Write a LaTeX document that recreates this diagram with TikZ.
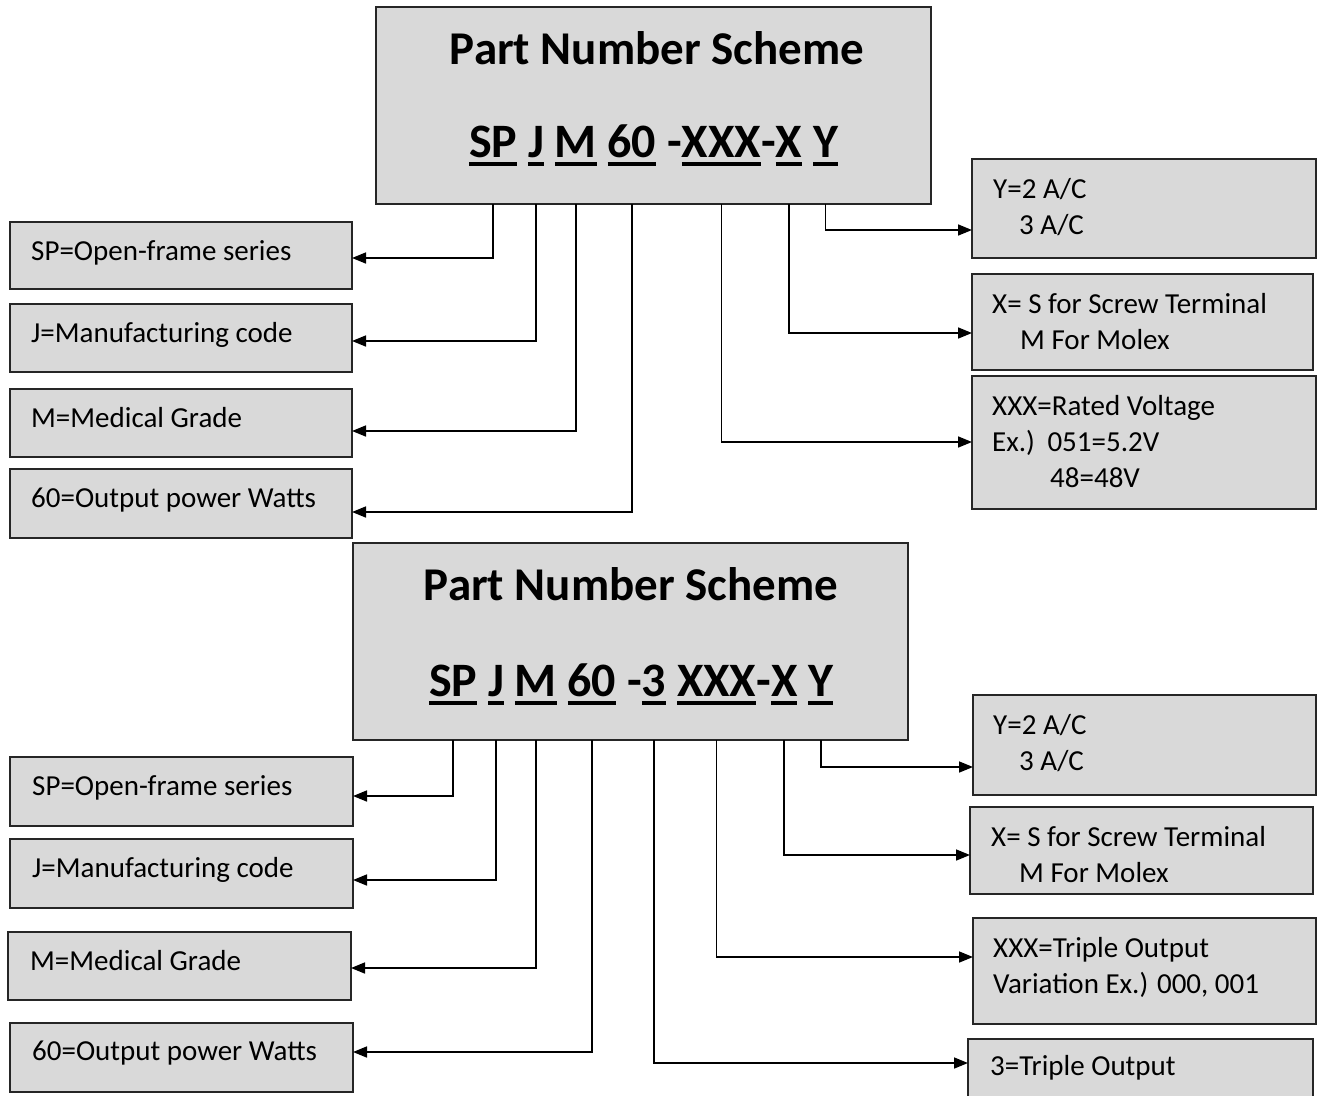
\documentclass[tikz,border=0pt]{standalone}
\usepackage{fontspec}
\setmainfont{Carlito}
\usetikzlibrary{arrows.meta}
\definecolor{boxgray}{HTML}{D9D9D9}
\definecolor{edgecol}{HTML}{262626}
\newcommand\ulseg[1]{\setbox0=\hbox{#1}\rlap{\raisebox{-9pt}{\rule{\wd0}{4pt}}}\box0}
\newcommand\boxlines[1]{\parbox[t]{330pt}{\raggedright #1}}
\begin{document}
\begin{tikzpicture}[x=1pt,y=-1pt,
  box/.style={draw=edgecol, line width=1.5pt, fill=boxgray, inner sep=0pt, outer sep=0pt, anchor=north west},
  lbl/.style={font=\fontsize{29}{36}\selectfont, anchor=base west, inner sep=0pt},
  ttl/.style={font=\fontsize{47}{56}\selectfont\bfseries, anchor=base, inner sep=0pt},
  seg/.style={font=\fontsize{48}{56}\selectfont\bfseries, anchor=base west, inner sep=0pt, outer sep=0pt},
  arr/.style={draw=black, line width=1.6pt, -{Triangle[length=14pt,width=11pt]}}]
\fill[white] (0,0) rectangle (1317,1095);
\useasboundingbox (0,0) rectangle (1317,1095);

% ===== top scheme =====
\node[box, minimum width=555pt, minimum height=197pt] (hdrA) at (376,7) {};
\node[ttl] (ttlA) at (657,64) {Part Number Scheme};
\node[seg] (tSP) at (469,157) {\ulseg{SP}};
\node[seg] (tJ) at ([xshift=10.85pt]tSP.base east) {\ulseg{J}};
\node[seg] (tM) at ([xshift=10.85pt]tJ.base east) {\ulseg{M}};
\node[seg] (t60) at ([xshift=10.85pt]tM.base east) {\ulseg{60}};
\node[seg] (tD1) at ([xshift=10.85pt]t60.base east) {-};
\node[seg] (tXXX) at (tD1.base east) {\ulseg{XXX}};
\node[seg] (tD2) at (tXXX.base east) {-};
\node[seg] (tX) at (tD2.base east) {\ulseg{X}};
\node[seg] (tY) at ([xshift=10.85pt]tX.base east) {\ulseg{Y}};

\node[box, minimum width=342pt, minimum height=67pt] (sp1) at (10,222) {};
\node[lbl] (sp1t) at (31,260) {SP=Open-frame series};
\node[box, minimum width=342pt, minimum height=68pt] (j1) at (10,304) {};
\node[lbl] (j1t) at (31,342) {J=Manufacturing code};
\node[box, minimum width=342pt, minimum height=68pt] (m1) at (10,389) {};
\node[lbl] (m1t) at (31,427) {M=Medical Grade};
\node[box, minimum width=342pt, minimum height=69pt] (w1) at (10,469) {};
\node[lbl] (w1t) at (31,507) {60=Output power Watts};

\node[box, minimum width=344pt, minimum height=99pt] (y1) at (972,159) {};
\node[lbl] (y1t) at (993,198) {\boxlines{Y=2 A/C\\\hspace*{26pt}3 A/C}};
\node[box, minimum width=341pt, minimum height=96pt] (x1) at (972,274) {};
\node[lbl] (x1t) at (992,313) {\boxlines{X= S for Screw Terminal\\\hspace*{28pt}M For Molex}};
\node[box, minimum width=344pt, minimum height=133pt] (v1) at (972,376) {};
\node[lbl] (v1t) at (992,415) {\boxlines{XXX=Rated Voltage\\Ex.)\hspace*{6pt} 051=5.2V\\\hspace*{58pt}48=48V}};

\draw[arr] (tSP |- hdrA.south) |- (sp1.east |- 0,258);
\draw[arr] (tJ |- hdrA.south) |- (j1.east |- 0,341);
\draw[arr] (tM |- hdrA.south) |- (m1.east |- 0,431);
\draw[arr] (t60 |- hdrA.south) |- (w1.east |- 0,512);
\draw[arr] (tY |- hdrA.south) |- (y1.west |- 0,230);
\draw[arr] (tX |- hdrA.south) |- (x1.west |- 0,333);
\draw[arr] (tXXX |- hdrA.south) |- (v1.west |- 0,442);

% ===== bottom scheme =====
\node[box, minimum width=555pt, minimum height=197pt] (hdrB) at (353,543) {};
\node[ttl] (ttlB) at (631,600) {Part Number Scheme};
\node[seg] (bSP) at (429,696) {\ulseg{SP}};
\node[seg] (bJ) at ([xshift=10.85pt]bSP.base east) {\ulseg{J}};
\node[seg] (bM) at ([xshift=10.85pt]bJ.base east) {\ulseg{M}};
\node[seg] (b60) at ([xshift=10.85pt]bM.base east) {\ulseg{60}};
\node[seg] (bD1) at ([xshift=10.85pt]b60.base east) {-};
\node[seg] (b3) at (bD1.base east) {\ulseg{3}};
\node[seg] (bXXX) at ([xshift=10.85pt]b3.base east) {\ulseg{XXX}};
\node[seg] (bD2) at (bXXX.base east) {-};
\node[seg] (bX) at (bD2.base east) {\ulseg{X}};
\node[seg] (bY) at ([xshift=10.85pt]bX.base east) {\ulseg{Y}};

\node[box, minimum width=343pt, minimum height=69pt] (sp2) at (10,757) {};
\node[lbl] (sp2t) at (32,795) {SP=Open-frame series};
\node[box, minimum width=343pt, minimum height=69pt] (j2) at (10,839) {};
\node[lbl] (j2t) at (32,877) {J=Manufacturing code};
\node[box, minimum width=343pt, minimum height=68pt] (m2) at (8,932) {};
\node[lbl] (m2t) at (30,970) {M=Medical Grade};
\node[box, minimum width=343pt, minimum height=69pt] (w2) at (10,1023) {};
\node[lbl] (w2t) at (32,1060) {60=Output power Watts};

\node[box, minimum width=343pt, minimum height=100pt] (y2) at (973,695) {};
\node[lbl] (y2t) at (993,734) {\boxlines{Y=2 A/C\\\hspace*{26pt}3 A/C}};
\node[box, minimum width=343pt, minimum height=87pt] (x2) at (970,807) {};
\node[lbl] (x2t) at (991,846) {\boxlines{X= S for Screw Terminal\\\hspace*{28pt}M For Molex}};
\node[box, minimum width=343pt, minimum height=106pt] (v2) at (973,918) {};
\node[lbl] (v2t) at (993,957) {\boxlines{XXX=Triple Output\\Variation Ex.) 000, 001}};
\node[box, minimum width=345pt, minimum height=80pt] (t2) at (968,1039) {};
\node[lbl] (t2t) at (990,1075) {3=Triple Output};

\draw[arr] (bSP |- hdrB.south) |- (sp2.east |- 0,796);
\draw[arr] (bJ |- hdrB.south) |- (j2.east |- 0,880);
\draw[arr] (bM |- hdrB.south) |- (m2.east |- 0,968);
\draw[arr] (b60 |- hdrB.south) |- (w2.east |- 0,1052);
\draw[arr] (bY |- hdrB.south) |- (y2.west |- 0,767);
\draw[arr] (bX |- hdrB.south) |- (x2.west |- 0,855);
\draw[arr] (bXXX |- hdrB.south) |- (v2.west |- 0,957);
\draw[arr] (b3 |- hdrB.south) |- (t2.west |- 0,1063);
\end{tikzpicture}
\end{document}
